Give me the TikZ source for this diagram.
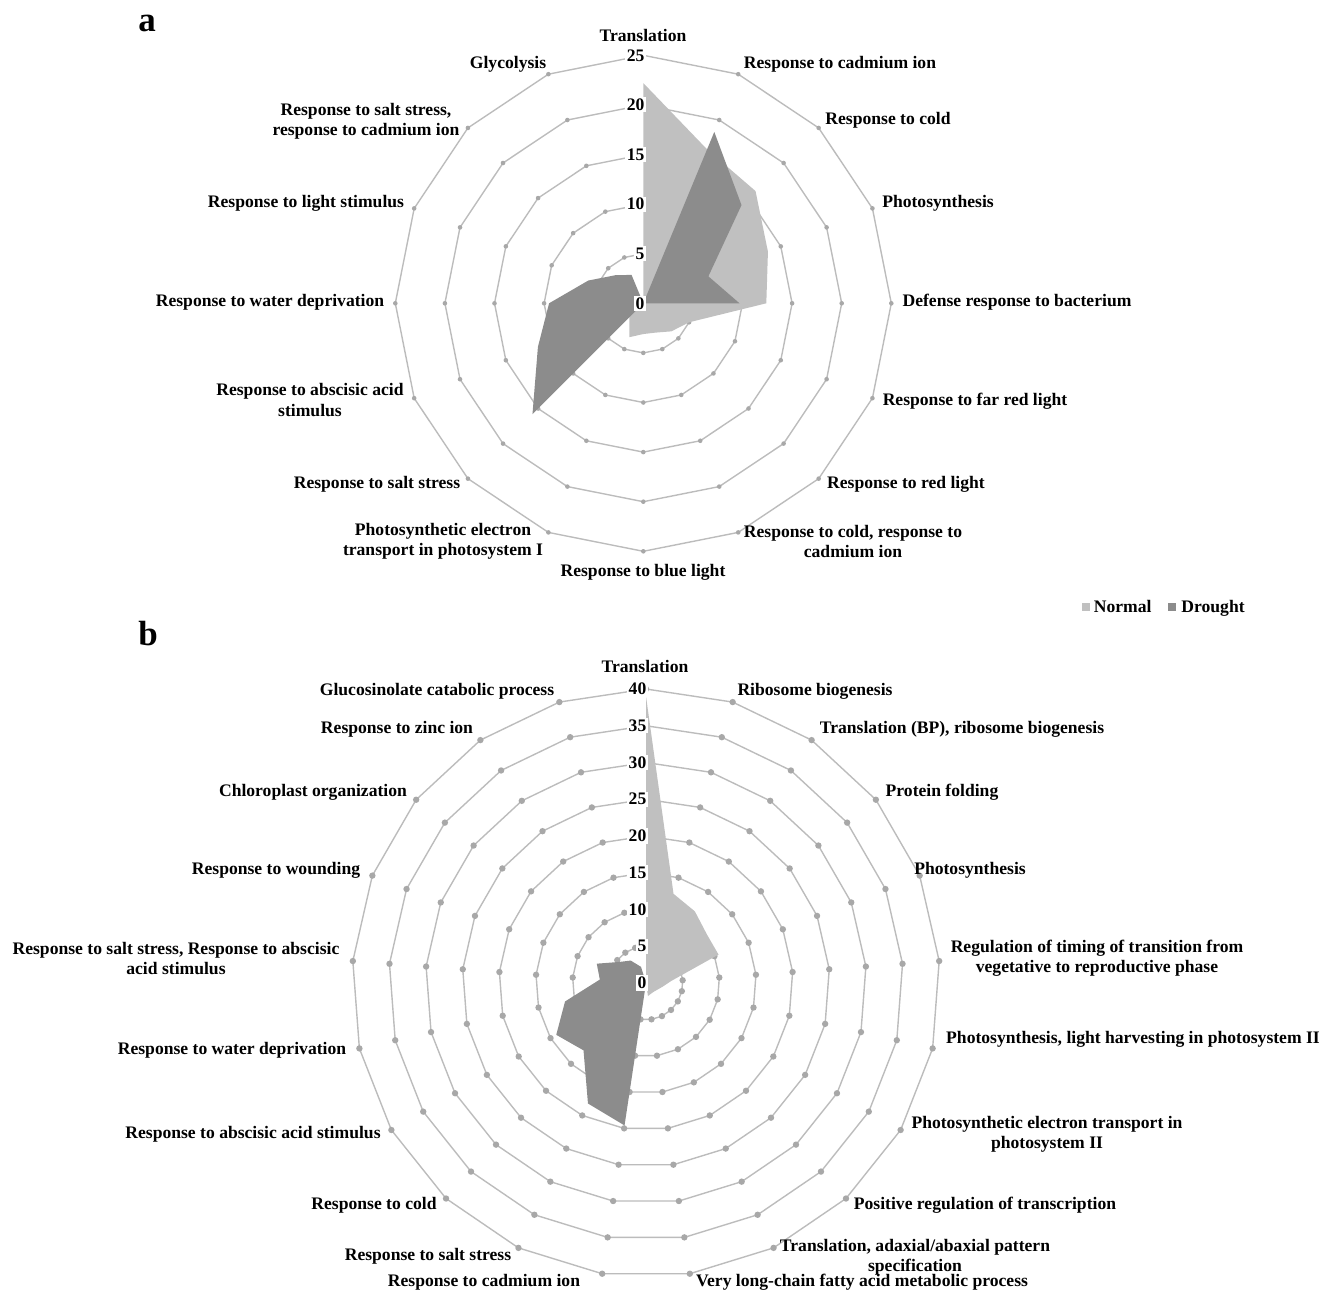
\documentclass[tikz,border=0pt]{standalone}
\usepackage{fontspec}
\setmainfont{Liberation Serif}
\usetikzlibrary{positioning}
\definecolor{normalgray}{RGB}{192,192,192}
\definecolor{droughtgray}{RGB}{140,140,140}
\definecolor{ringgray}{RGB}{188,188,188}
\definecolor{dotgray}{RGB}{168,168,168}
\tikzset{
    %Define style for the grid rings
    ring/.style={
           draw=ringgray,
           line width=0.7pt},
    ringdot/.style={
           fill=dotgray},
    % Define styles for the two areas
    normalarea/.style={fill=normalgray},
    droughtarea/.style={fill=droughtgray},
    % Define styles for the texts
    axlbl/.style={
           fill=white,
           inner sep=0.8pt,
           anchor=east,
           font=\fontsize{8.8}{10}\selectfont\bfseries},
    catlbl/.style={
           inner sep=0pt,
           align=center,
           font=\fontsize{8.8}{10}\selectfont\bfseries},
    panel/.style={
           inner sep=0pt,
           anchor=base,
           font=\fontsize{17.5}{20}\selectfont\bfseries}
}
\begin{document}
\begin{tikzpicture}[x=0.5pt, y=-0.5pt]
\useasboundingbox (0,0) rectangle (1326,1294);
%Panel letters
\node[panel] (pa) at (147,32) {a};
\node[panel] (pb) at (148,645) {b};

%Panel a
\begin{scope}[shift={(643.3,303.3)}]
\foreach \r in {1,...,5}{
  \draw[ring] (-90:{\r*49.6}) \foreach \k in {1,...,15}{ -- ({\k*22.5-90}:{\r*49.6})} -- cycle;
  \foreach \k in {0,...,15}
    \fill[ringdot] ({\k*22.5-90}:{\r*49.6}) circle (2.3);
}
\fill[normalarea] (0,0) \foreach \v [count=\k from 0] in {22.2,16.8,16,13.6,12.4,5.0,4.0,3.2,3.1,3.7,2,1,0,0,0,0}{ -- ({\k*22.5-90}:{\v*9.92})} -- cycle;
\fill[droughtarea] (0,0) \foreach \v [count=\k from 0] in {0,18.7,14,7.1,9.7,0,0,0,0,0,15.8,11.5,9.5,6,4,3.1}{ -- ({\k*22.5-90}:{\v*9.92})} -- cycle;
\foreach \v in {0,5,...,25}
  \node[axlbl] (a-ax\v) at (3.2,{-\v*9.92}) {\v};
\end{scope}
%Categories a
\node[catlbl] (a-transl) at (643,35) {Translation};
\node[catlbl] (a-cadm) at (840,64) {Response to cadmium ion};
\node[catlbl] (a-cold) at (888,120) {Response to cold};
\node[catlbl] (a-photo) at (938,203) {Photosynthesis};
\node[catlbl] (a-bact) at (1017,302) {Defense response to bacterium};
\node[catlbl] (a-farred) at (975,401) {Response to far red light};
\node[catlbl] (a-red) at (906,484) {Response to red light};
\node[catlbl] (a-coldcad) at (853,541) {Response to cold, response to\\cadmium ion};
\node[catlbl] (a-blue) at (643,572) {Response to blue light};
\node[catlbl] (a-psi) at (443,541) {Photosynthetic electron\\transport in photosystem I};
\node[catlbl] (a-salt) at (377,484) {Response to salt stress};
\node[catlbl] (a-aba) at (310,400) {Response to abscisic acid\\stimulus};
\node[catlbl] (a-water) at (270,302) {Response to water deprivation};
\node[catlbl] (a-light) at (306,203) {Response to light stimulus};
\node[catlbl] (a-saltcad) at (366,121) {Response to salt stress,\\response to cadmium ion};
\node[catlbl] (a-glyco) at (508,64) {Glycolysis};

%Legend
\fill[normalarea] (1082,603.3) rectangle (1090,611);
\node[catlbl, anchor=base west] (leg-normal) at (1093.5,612.7) {Normal};
\fill[droughtarea] (1167.5,603.3) rectangle (1176,611);
\node[catlbl, anchor=base west] (leg-drought) at (1181,612.7) {Drought};

%Panel b
\begin{scope}[shift={(646,983)}]
\foreach \r in {1,...,8}{
  \draw[ring] (-90:{\r*36.75}) \foreach \k in {1,...,20}{ -- ({\k*360/21-90}:{\r*36.75})} -- cycle;
  \foreach \k in {0,...,20}
    \fill[ringdot] ({\k*360/21-90}:{\r*36.75}) circle (3.2);
}
\fill[normalarea] (0,0) \foreach \v [count=\k from 0] in {39,12.7,11.8,10.6,10.6,3.4,2.3,1.8,1.6,1.6,1.8,0,0,0,0,0,0,0,0,0,0}{ -- ({\k*360/21-90}:{\v*7.35})} -- cycle;
\fill[droughtarea] (0,0) \foreach \v [count=\k from 0] in {0,0,0,0,0,0,0,0,0,0,0,19.6,18.2,12.5,14.1,11.3,6.3,7.2,4.6,3.7,2.3}{ -- ({\k*360/21-90}:{\v*7.35})} -- cycle;
\foreach \v in {0,5,...,40}
  \node[axlbl] (b-ax\v) at (2.3,{-\v*7.35}) {\v};
\end{scope}
%Categories b
\node[catlbl] (b-transl) at (645,666) {Translation};
\node[catlbl] (b-ribo) at (815,691) {Ribosome biogenesis};
\node[catlbl] (b-translbp) at (962,729) {Translation (BP), ribosome biogenesis};
\node[catlbl] (b-fold) at (942,792) {Protein folding};
\node[catlbl] (b-photo) at (970,870) {Photosynthesis};
\node[catlbl] (b-timing) at (1097,958) {Regulation of timing of transition from\\vegetative to reproductive phase};
\node[catlbl] (b-harvest) at (1133,1039) {Photosynthesis, light harvesting in photosystem II};
\node[catlbl] (b-psii) at (1047,1134) {Photosynthetic electron transport in\\photosystem II};
\node[catlbl] (b-transcr) at (985,1205) {Positive regulation of transcription};
\node[catlbl] (b-adax) at (915,1257) {Translation, adaxial/abaxial pattern\\specification};
\node[catlbl] (b-fatty) at (862,1282) {Very long-chain fatty acid metabolic process};
\node[catlbl] (b-cadm) at (484,1282) {Response to cadmium ion};
\node[catlbl] (b-salt) at (428,1256) {Response to salt stress};
\node[catlbl] (b-cold) at (374,1205) {Response to cold};
\node[catlbl] (b-aba) at (253,1134) {Response to abscisic acid stimulus};
\node[catlbl] (b-water) at (232,1050) {Response to water deprivation};
\node[catlbl] (b-saltaba) at (176,958) {Response to salt stress, Response to abscisic\\acid stimulus};
\node[catlbl] (b-wound) at (276,870) {Response to wounding};
\node[catlbl] (b-chloro) at (313,792) {Chloroplast organization};
\node[catlbl] (b-zinc) at (397,729) {Response to zinc ion};
\node[catlbl] (b-gluco) at (437,691) {Glucosinolate catabolic process};
\end{tikzpicture}
\end{document}
